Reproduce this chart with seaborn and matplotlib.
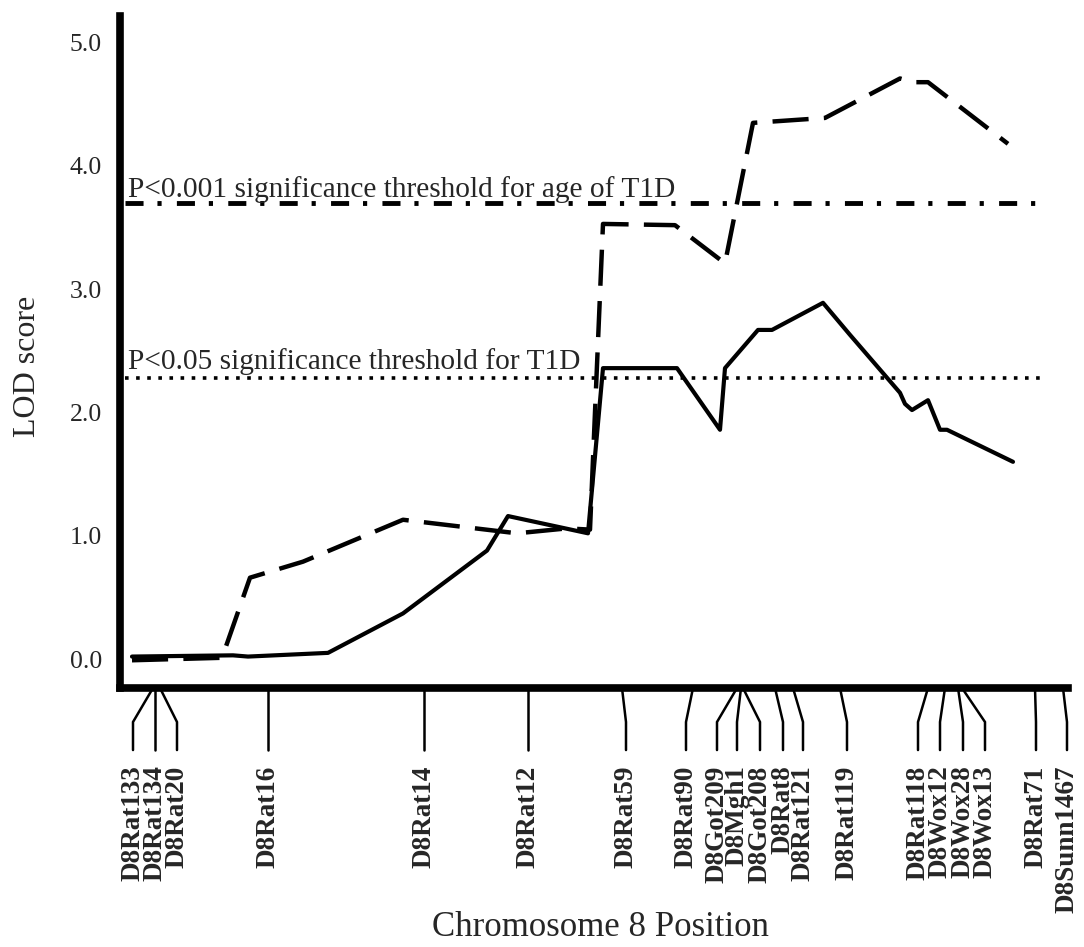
import numpy as np
import pandas as pd
import seaborn as sns
import matplotlib.pyplot as plt

# 标记名称与在8号染色体上的位置
markers = ["D8Rat133", "D8Rat134", "D8Rat20", "D8Rat16", "D8Rat14", "D8Rat12",
           "D8Rat59", "D8Rat90", "D8Got209", "D8Mgh1", "D8Got208", "D8Rat8",
           "D8Rat121", "D8Rat119", "D8Rat118", "D8Wox12", "D8Wox28", "D8Wox13",
           "D8Rat71", "D8Sunn1467"]
marker_pos = [0.0, 0.2, 0.7, 11.5, 27.1, 37.5, 46.9, 54.0, 58.4, 58.8, 59.0, 62.2,
              64.0, 68.7, 77.5, 79.2, 80.5, 80.9, 88.2, 91.0]

# T1D LOD 曲线 (实线)
t1d_pos = [-2.1, 8.0, 9.5, 17.5, 25.0, 33.4, 35.5, 43.5, 45.0, 52.4, 56.7, 57.2,
           60.5, 61.9, 67.0, 69.7, 74.7, 75.2, 75.9, 77.5, 78.7, 79.4, 86.0]
t1d_lod = [0.02, 0.03, 0.02, 0.05, 0.37, 0.88, 1.16, 1.02, 2.36, 2.36, 1.86, 2.36,
           2.67, 2.67, 2.89, 2.63, 2.16, 2.07, 2.02, 2.10, 1.86, 1.86, 1.60]

# 发病年龄 LOD 曲线 (虚线)
age_pos = [-2.1, 6.9, 9.7, 15.0, 25.0, 36.4, 41.4, 43.7, 45.0, 52.2, 57.2,
           60.0, 67.2, 74.7, 76.0, 77.5, 85.5]
age_lod = [-0.01, 0.01, 0.66, 0.79, 1.13, 1.02, 1.06, 1.05, 3.53, 3.52, 3.21,
           4.35, 4.39, 4.71, 4.68, 4.68, 4.18]

# 显著性阈值
thr_age = 3.70
thr_t1d = 2.28
thr_age_text = "P<0.001 significance threshold for age of T1D"
thr_t1d_text = "P<0.05 significance threshold for T1D"

yticks = [0.0, 1.0, 2.0, 3.0, 4.0, 5.0]

# 标签在x轴下方的摆放位置（排版用）
label_pos = [-2.0, 0.2, 2.4, 11.5, 27.1, 37.5, 47.3, 53.3, 56.4, 58.4, 60.7, 63.0,
             65.0, 69.4, 76.5, 78.7, 81.0, 83.2, 88.3, 91.4]

sns.set_theme(style="white")
plt.rcParams['font.family'] = ['Liberation Serif', 'DejaVu Serif']
plt.rcParams['lines.scale_dashes'] = False

t1dDf = pd.DataFrame({"pos": t1d_pos, "lod": t1d_lod})
ageDf = pd.DataFrame({"pos": age_pos, "lod": age_lod})

fig = plt.figure(figsize=(10.84, 9.47), dpi=100)
ax = fig.add_axes([0.1107, 0.2735, 0.87454, 0.71000])

sns.lineplot(data=t1dDf, x="pos", y="lod", ax=ax, color="black", lw=3.0,
             estimator=None, sort=False)
sns.lineplot(data=ageDf, x="pos", y="lod", ax=ax, color="black", lw=3.2,
             estimator=None, sort=False, linestyle=(0, (26, 11)))

ax.axhline(thr_age, xmin=0.005, xmax=0.9736, color="black", lw=3.5,
           linestyle=(0, (13, 10, 3, 11)))
ax.axhline(thr_t1d, xmin=0.005, xmax=0.9736, color="black", lw=2.6,
           linestyle=(0, (2.6, 5.4)))
ax.annotate(thr_age_text, xy=(-2.5, thr_age), xytext=(0, 4), textcoords="offset points",
            fontsize=21.2, va="baseline", ha="left")
ax.annotate(thr_t1d_text, xy=(-2.5, thr_t1d), xytext=(0, 6.5), textcoords="offset points",
            fontsize=21.2, va="baseline", ha="left")

ax.set_xlim(-3.3, 91.5)
ax.set_ylim(-0.235, 5.22)
ax.set_yticks(yticks)
ax.set_yticklabels([f"{v:.1f}" for v in yticks], fontsize=18.5)
ax.set_xticks([])
ax.tick_params(axis="y", direction="inout", length=10, width=3.5, pad=8, color="black")

for s in ["top", "right"]:
    ax.spines[s].set_visible(False)
for s in ["left", "bottom"]:
    ax.spines[s].set_linewidth(5.5)
    ax.spines[s].set_color("black")
    ax.spines[s].set_capstyle("projecting")
    ax.spines[s].set_zorder(5)

# 标记的引线与标签
trans = ax.get_xaxis_transform()
for name, mp, lp in zip(markers, marker_pos, label_pos):
    ax.plot([mp, lp, lp], [0, -0.0506, -0.0923], transform=trans, color="black",
            lw=1.8, clip_on=False, solid_joinstyle="miter")
    ax.text(lp, -0.115, name, transform=trans, rotation=90, ha="center", va="top",
            fontsize=19.5, fontweight="bold")

ax.set_ylabel("LOD score", fontsize=23)
ax.yaxis.set_label_coords(-0.082, 0.478)
ax.set_xlabel("Chromosome 8 Position", fontsize=25)
ax.xaxis.set_label_coords(0.507, -0.332)

fig.savefig("out.png", dpi=100)
